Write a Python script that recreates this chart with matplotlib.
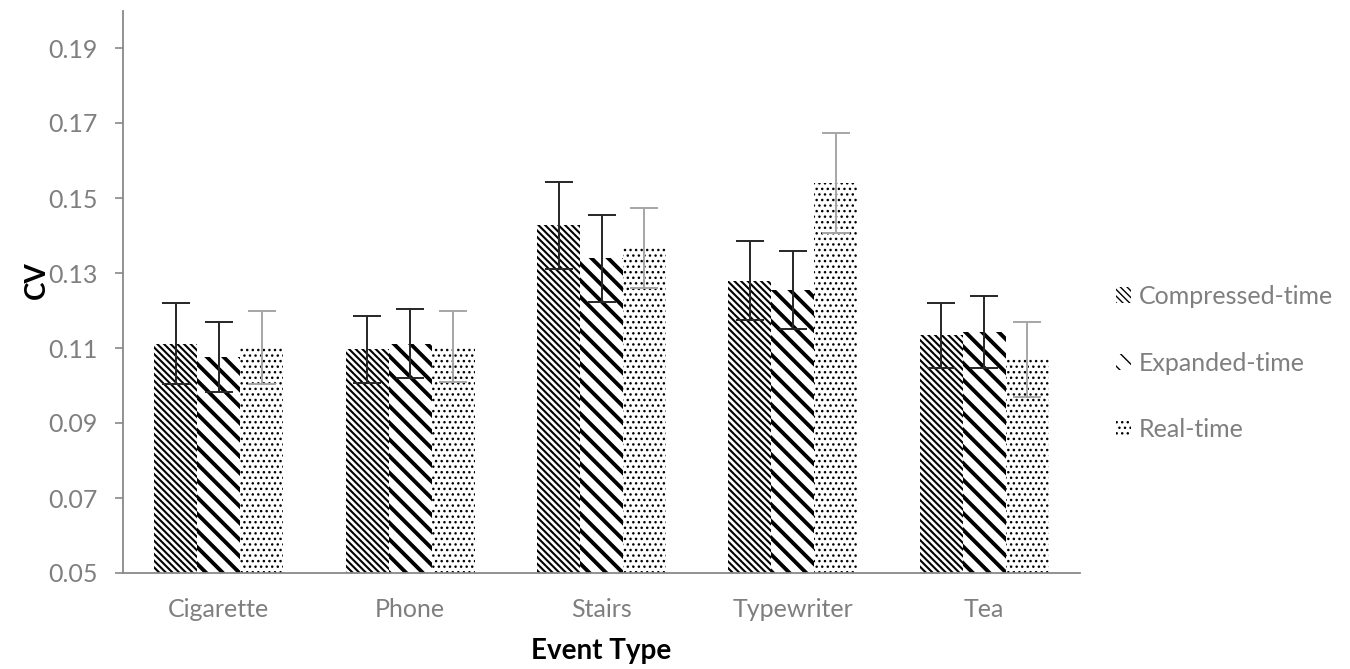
import numpy as np
import matplotlib.pyplot as plt

# coefficient of variation by event type and time condition
events = ["Cigarette", "Phone", "Stairs", "Typewriter", "Tea"]
compressed = [0.1112, 0.1097, 0.1427, 0.1280, 0.1134]
compressed_err = [0.0108, 0.0089, 0.0115, 0.0105, 0.0087]
expanded = [0.1077, 0.1112, 0.1339, 0.1254, 0.1143]
expanded_err = [0.0093, 0.0093, 0.0117, 0.0104, 0.0096]
realtime = [0.1102, 0.1104, 0.1367, 0.1540, 0.1070]
realtime_err = [0.0097, 0.0095, 0.0106, 0.0133, 0.0100]

plt.rcParams["font.family"] = ["Lato", "DejaVu Sans"]
grey = "#898989"
label_grey = "#7f7f7f"

fig = plt.figure(figsize=(13.5, 6.69), dpi=100)
ax = fig.add_axes([123 / 1350, 1 - 573 / 669, (1080 - 123) / 1350, (573 - 10.5) / 669])

x = np.arange(len(events))
w = 0.2245

series = [
    ("Compressed-time", compressed, compressed_err, "\\" * 5, 1.5, "#262626", -w),
    ("Expanded-time", expanded, expanded_err, "\\" * 2, 2.8, "#262626", 0.0),
    ("Real-time", realtime, realtime_err, "...", 1.0, "#a6a6a6", w),
]

for name, vals, err, hatch, hlw, ecol, off in series:
    with plt.rc_context({"hatch.linewidth": hlw}):
        bars = ax.bar(x + off, vals, w, color="white", edgecolor="black",
                      linewidth=0, hatch=hatch, label=name)
    for b in bars:
        if hasattr(b, "set_hatch_linewidth"):
            b.set_hatch_linewidth(hlw)
    ax.errorbar(x + off, vals, yerr=err, fmt="none", ecolor=ecol,
                elinewidth=1.4, capsize=10, capthick=1.4)

ax.set_xlim(-0.5, len(events) - 0.5)
ax.set_ylim(0.05, 0.2)
ax.set_yticks(np.arange(0.05, 0.195, 0.02))
ax.set_yticklabels([f"{t:.2f}" for t in np.arange(0.05, 0.195, 0.02)])
ax.set_xticks(x)
ax.set_xticklabels(events)

for s in ["top", "right"]:
    ax.spines[s].set_visible(False)
for s in ["left", "bottom"]:
    ax.spines[s].set_color(grey)
    ax.spines[s].set_linewidth(1.3)

ax.tick_params(axis="y", direction="out", length=6, width=1.2, color=grey,
               labelcolor=label_grey, labelsize=18, pad=12)
ax.tick_params(axis="x", length=0, labelcolor=label_grey, labelsize=18, pad=18)

ax.set_xlabel("Event Type", fontsize=20, fontweight="bold", color="black", labelpad=12)
ax.set_ylabel("CV", fontsize=20, fontweight="bold", color="black")
ax.yaxis.set_label_coords(-0.076, 0.52)

leg = ax.legend(loc="center left", bbox_to_anchor=(1.014, 0.373), frameon=False,
                fontsize=18, handlelength=0.6, handleheight=0.6,
                handletextpad=0.3, labelspacing=1.75)
for t in leg.get_texts():
    t.set_color(label_grey)

fig.savefig("out.png", dpi=100)
